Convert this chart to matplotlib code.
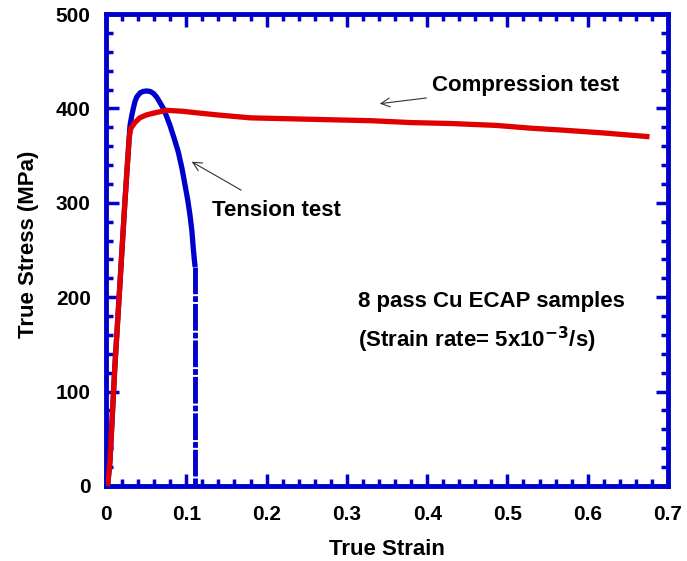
import numpy as np
import matplotlib.pyplot as plt
from matplotlib.ticker import MultipleLocator

plt.rcParams['font.family'] = ['Liberation Sans', 'DejaVu Sans']
plt.rcParams['font.weight'] = 'bold'

# compression test (red)
comp_strain = [0.002, 0.005, 0.008, 0.011, 0.0174, 0.0237, 0.027, 0.029, 0.031, 0.036,
               0.042, 0.05, 0.059, 0.0755, 0.095, 0.117, 0.14, 0.18, 0.23, 0.279,
               0.33, 0.38, 0.43, 0.486, 0.53, 0.569, 0.62, 0.677]
comp_stress = [0, 27, 78, 126, 215, 303, 345, 370, 379, 385,
               390, 393, 395, 398, 397, 395, 393, 390, 389, 388,
               387, 385, 384, 382, 379, 377, 374, 370]

# tension test (blue), solid part
tens_strain = [0.002, 0.005, 0.011, 0.0174, 0.0237, 0.027, 0.0299, 0.032, 0.034, 0.036,
               0.0382, 0.0425, 0.0464, 0.0506, 0.0548, 0.059, 0.0631, 0.067, 0.0714, 0.0755,
               0.0797, 0.085, 0.090, 0.0945, 0.0984, 0.1018, 0.1046, 0.107, 0.1087, 0.110,
               0.111]
tens_stress = [0, 27, 126, 215, 303, 345, 382, 392, 400, 407,
               412, 416.5, 418, 418.5, 418, 416, 412, 406.5, 400, 391.5,
               382, 368, 354, 337, 319, 303, 287, 270, 252, 240,
               232]
# fracture drop
drop_strain = [0.111, 0.111]
drop_stress = [232, 0]

blue = '#0000cc'
red = '#e00000'

fig = plt.figure(figsize=(6.87, 5.61), dpi=100)
ax = fig.add_axes([0.1543, 0.1337, 0.818, 0.8413])

ax.plot(tens_strain, tens_stress, color=blue, lw=3.8, zorder=2, solid_capstyle='butt')
ax.plot(drop_strain, drop_stress, color=blue, lw=3.5, zorder=2,
        linestyle=(0, (5.5, 0.4, 1.2, 0.4)))
ax.plot(comp_strain, comp_stress, color=red, lw=3.8, zorder=3, solid_capstyle='butt')

ax.set_xlim(0, 0.7)
ax.set_ylim(0, 500)
ax.xaxis.set_minor_locator(MultipleLocator(0.02))
ax.yaxis.set_major_locator(MultipleLocator(100))
ax.yaxis.set_minor_locator(MultipleLocator(20))
ax.set_xticks(np.arange(0, 0.71, 0.1))
ax.set_xticklabels(['0', '0.1', '0.2', '0.3', '0.4', '0.5', '0.6', '0.7'])

for s in ax.spines.values():
    s.set_color(blue)
    s.set_linewidth(3.5)
ax.tick_params(which='both', direction='in', top=True, right=True,
               color=blue, labelsize=15)
ax.tick_params(axis='x', which='both', pad=14)
ax.tick_params(axis='y', which='both', pad=11)
ax.tick_params(which='major', length=9, width=2.5)
ax.tick_params(which='minor', length=5, width=2.5)
for lab in ax.get_xticklabels() + ax.get_yticklabels():
    lab.set_fontweight('bold')

ax.set_xlabel('True Strain', fontsize=16, fontweight='bold')
ax.set_ylabel('True Stress (MPa)', fontsize=16, fontweight='bold')
ax.xaxis.set_label_coords(0.5, -0.112)
ax.yaxis.set_label_coords(-0.12, 0.513)

ax.annotate('Compression test', xy=(0.341, 405), xytext=(0.406, 424),
            fontsize=16, fontweight='bold', va='center',
            arrowprops=dict(arrowstyle='->', color='#333333', lw=0.8, shrinkA=2, shrinkB=0))
ax.annotate('Tension test', xy=(0.1067, 343.5), xytext=(0.132, 292),
            fontsize=16, fontweight='bold', va='center',
            arrowprops=dict(arrowstyle='->', color='#333333', lw=0.8, shrinkA=10, shrinkB=0))

ax.text(0.314, 195, '8 pass Cu ECAP samples', fontsize=16, fontweight='bold', va='center')
ax.text(0.314, 155, r'(Strain rate= 5x10$^{\mathbf{-3}}$/s)', fontsize=16,
        fontweight='bold', va='center')

fig.savefig('out.png', dpi=100)
